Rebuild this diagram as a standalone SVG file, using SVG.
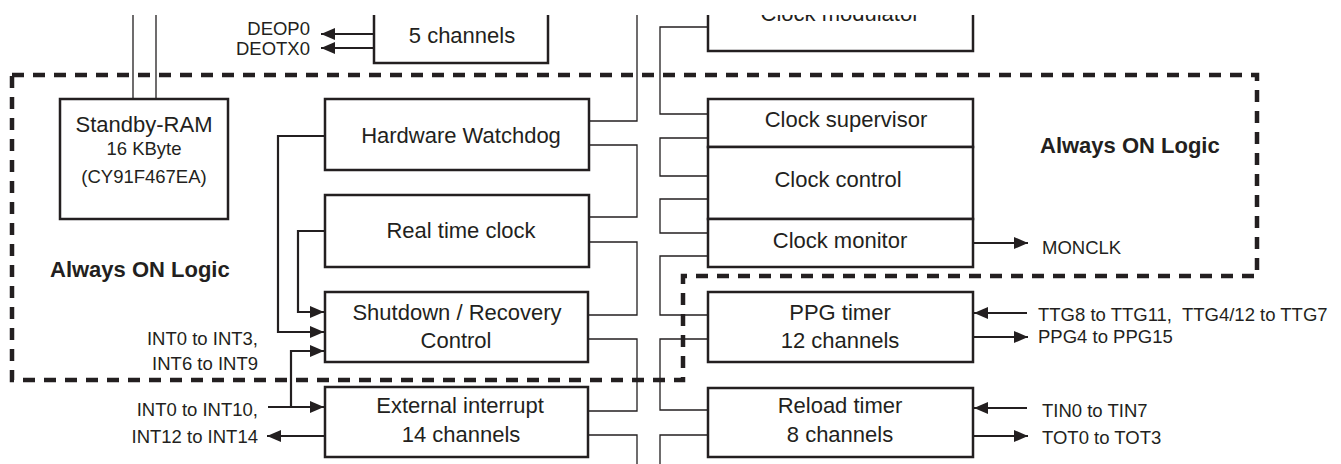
<svg xmlns="http://www.w3.org/2000/svg" width="1341" height="464" viewBox="0 0 1341 464">
<style>
  .box { fill: #fff; stroke: #231f20; stroke-width: 2.5; }
  .t { font-family: "Liberation Sans", Arial, sans-serif; font-size: 22px; fill: #231f20; text-anchor: middle; }
  .s { font-family: "Liberation Sans", Arial, sans-serif; font-size: 18.5px; fill: #231f20; }
  .r { text-anchor: end; }
  .big { font-family: "Liberation Sans", Arial, sans-serif; font-size: 22px; font-weight: bold; fill: #231f20; }
  .thin { fill: none; stroke: #231f20; stroke-width: 1.3; }
  .arr { fill: none; stroke: #231f20; stroke-width: 2.2; }
  .dash { fill: none; stroke: #231f20; stroke-width: 4.5; stroke-dasharray: 12 9; }
</style>
<defs>
  <marker id="ah" markerUnits="userSpaceOnUse" markerWidth="15" markerHeight="13" refX="14" refY="6" orient="auto">
    <path d="M0,0 L14,6 L0,12 z" fill="#231f20"/>
  </marker>
  <clipPath id="crop"><rect x="0" y="15" width="1341" height="449"/></clipPath>
</defs>
<rect width="1341" height="464" fill="#fff"/>
<g clip-path="url(#crop)">
<g id="connectors">
  <path class="thin" d="M133,0 V99 M156,0 V99"/>
  <path class="thin" d="M637,0 V121 H589 M589,145 H637 V217 H589 M589,242 H637 V315 H589 M589,339 H637 V411 H589 M589,435 H637 V464"/>
  <path class="thin" d="M708,27 H660 V114 H708 M708,138 H660 V176 H708 M708,199 H660 V233 H708 M708,256 H660 V315 H708 M708,339 H660 V410 H708 M708,435 H660 V464"/>
  <path class="arr" marker-end="url(#ah)" d="M374,34 H321"/>
  <path class="arr" marker-end="url(#ah)" d="M374,48 H321"/>
  <path class="arr" marker-end="url(#ah)" d="M325,136 H278 V332 H324"/>
  <path class="arr" marker-end="url(#ah)" d="M325,231 H298 V312 H324"/>
  <path class="arr" marker-end="url(#ah)" d="M291,407 V351 H324"/>
  <path class="arr" marker-end="url(#ah)" d="M268,407 H324"/>
  <path class="arr" marker-end="url(#ah)" d="M325,436 H267"/>
  <path class="arr" marker-end="url(#ah)" d="M973,243 H1028"/>
  <path class="arr" marker-end="url(#ah)" d="M1027,313 H974"/>
  <path class="arr" marker-end="url(#ah)" d="M973,337 H1028"/>
  <path class="arr" marker-end="url(#ah)" d="M1027,408 H974"/>
  <path class="arr" marker-end="url(#ah)" d="M973,436 H1028"/>
</g>
<g id="always-on-region">
  <path class="dash" d="M12,75 H1257 V276 H683 V380 H12 Z"/>
  <text class="big" x="50" y="277">Always ON Logic</text>
  <text class="big" x="1040" y="153">Always ON Logic</text>
</g>
<g id="dma-5ch">
  <rect class="box" x="374" y="-20" width="174" height="83"/>
  <text class="t" x="462" y="43">5 channels</text>
</g>
<g id="standby-ram">
  <rect class="box" x="60" y="99" width="168" height="120"/>
  <text class="t" x="144" y="132">Standby-RAM</text>
  <text class="s" x="144" y="155" text-anchor="middle">16 KByte</text>
  <text class="s" x="144" y="183" text-anchor="middle">(CY91F467EA)</text>
</g>
<g id="hw-watchdog">
  <rect class="box" x="325" y="99" width="264" height="71"/>
  <text class="t" x="461" y="143">Hardware Watchdog</text>
</g>
<g id="rtc">
  <rect class="box" x="325" y="195" width="264" height="72"/>
  <text class="t" x="461" y="238">Real time clock</text>
</g>
<g id="shutdown">
  <rect class="box" x="325" y="292" width="263" height="70"/>
  <text class="t" x="457" y="320">Shutdown / Recovery</text>
  <text class="t" x="456" y="348">Control</text>
</g>
<g id="ext-int">
  <rect class="box" x="325" y="387" width="263" height="70"/>
  <text class="t" x="460" y="413">External interrupt</text>
  <text class="t" x="461" y="442">14 channels</text>
</g>
<g id="clock-modulator">
  <rect class="box" x="708" y="-20" width="265" height="71"/>
  <text class="t" x="840" y="21">Clock modulator</text>
</g>
<g id="clock-supervisor">
  <rect class="box" x="708" y="99" width="265" height="48"/>
  <text class="t" x="846" y="127">Clock supervisor</text>
</g>
<g id="clock-control">
  <rect class="box" x="708" y="147" width="265" height="72"/>
  <text class="t" x="838" y="187">Clock control</text>
</g>
<g id="clock-monitor">
  <rect class="box" x="708" y="219" width="265" height="48"/>
  <text class="t" x="840" y="248">Clock monitor</text>
</g>
<g id="ppg-timer">
  <rect class="box" x="708" y="292" width="265" height="70"/>
  <text class="t" x="840" y="320">PPG timer</text>
  <text class="t" x="840" y="348">12 channels</text>
</g>
<g id="reload-timer">
  <rect class="box" x="708" y="388" width="265" height="69"/>
  <text class="t" x="840" y="413">Reload timer</text>
  <text class="t" x="840" y="442">8 channels</text>
</g>
<g id="labels">
  <text class="s r" x="310" y="35">DEOP0</text>
  <text class="s r" x="310" y="55">DEOTX0</text>
  <text class="s r" x="258" y="345">INT0 to INT3,</text>
  <text class="s r" x="258" y="370">INT6 to INT9</text>
  <text class="s r" x="258" y="416">INT0 to INT10,</text>
  <text class="s r" x="258" y="443">INT12 to INT14</text>
  <text class="s" x="1042" y="254">MONCLK</text>
  <text class="s" x="1038" y="321">TTG8 to TTG11,&#160; TTG4/12 to TTG7</text>
  <text class="s" x="1038" y="343">PPG4 to PPG15</text>
  <text class="s" x="1042" y="417">TIN0 to TIN7</text>
  <text class="s" x="1042" y="444">TOT0 to TOT3</text>
</g>
</g>
</svg>
